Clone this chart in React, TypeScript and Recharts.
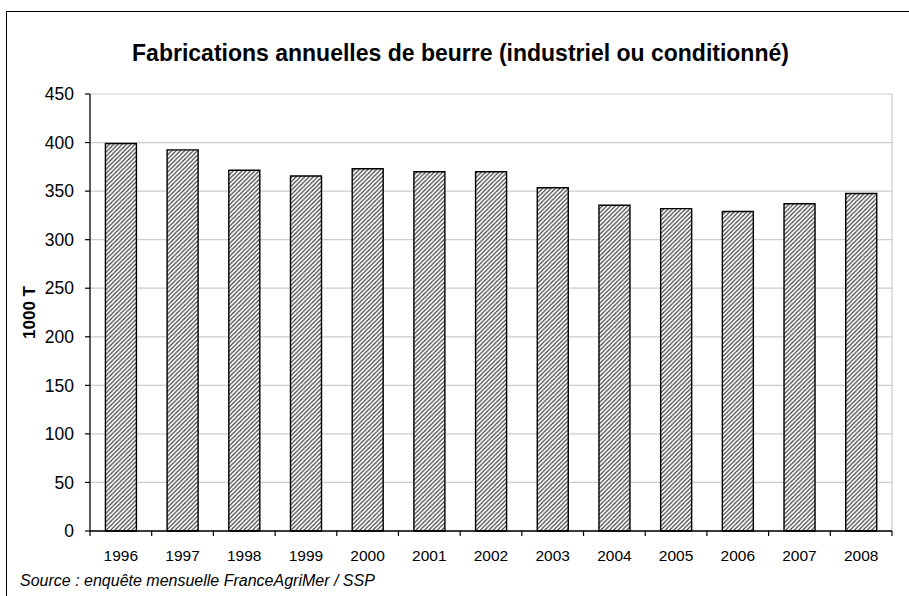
import React from 'react';
import { BarChart, Bar, XAxis, YAxis, CartesianGrid, Label } from 'recharts';

const years = ['1996', '1997', '1998', '1999', '2000', '2001', '2002', '2003', '2004', '2005', '2006', '2007', '2008'];
const production = [399, 392.5, 371.5, 365.5, 373, 370, 370, 353.5, 335.5, 332, 329, 337, 347.5];
const yTicks = [0, 50, 100, 150, 200, 250, 300, 350, 400, 450];

const title = 'Fabrications annuelles de beurre (industriel ou conditionné)';
const yLabel = '1000 T';
const source = 'Source : enquête mensuelle FranceAgriMer / SSP';

const data = years.map((y, i) => ({ year: y, value: production[i] }));

const FONT = 'Arial, "Liberation Sans", sans-serif';

const XTick = (props: any) => {
  const { x, y, payload, index } = props;
  const half = payload && payload.offset != null ? payload.offset : 30.85;
  const isLast = index === years.length - 1;
  return (
    <g>
      <line x1={x - half} y1={y} x2={x - half} y2={y + 5} stroke="#000" strokeWidth={1.2} />
      {isLast && <line x1={x + half} y1={y} x2={x + half} y2={y + 5} stroke="#000" strokeWidth={1.2} />}
      <text x={x} y={y + 29.5} textAnchor="middle" fontSize={15.5} fontFamily={FONT} fill="#000">
        {payload.value}
      </text>
    </g>
  );
};

const YLabelContent = (props: any) => {
  const vb = props.viewBox || { x: 0, y: 94, width: 90, height: 437 };
  const cx = 29;
  const cy = vb.y + vb.height / 2;
  return (
    <text
      x={cx}
      y={cy}
      transform={`rotate(-90, ${cx}, ${cy})`}
      textAnchor="middle"
      dominantBaseline="central"
      fontSize={17}
      fontWeight="bold"
      fontFamily={FONT}
      fill="#000"
    >
      {yLabel}
    </text>
  );
};

export default function App() {
  return (
    <div style={{ position: 'absolute', left: 0, top: 0, width: 909, height: 596, background: '#fff', overflow: 'hidden' }}>
      <div
        style={{
          position: 'absolute',
          left: 6,
          top: 11,
          width: 920,
          height: 600,
          borderTop: '1.5px solid #000',
          borderLeft: '1.5px solid #000',
          boxSizing: 'border-box',
        }}
      />
      <div style={{ position: 'absolute', left: 0, top: 0 }}>
        <BarChart
          width={909}
          height={596}
          data={data}
          margin={{ top: 94, right: 17, bottom: 0, left: 0 }}
          barCategoryGap="25%"
        >
          <defs>
            <pattern id="hatch" patternUnits="userSpaceOnUse" width="4.3" height="4.3">
              <rect width="4.3" height="4.3" fill="#fff" />
              <path d="M-1,1 L1,-1 M0,4.3 L4.3,0 M3.3,5.3 L5.3,3.3" stroke="#3a3a3a" strokeWidth={1.15} />
            </pattern>
          </defs>
          <CartesianGrid
            stroke="#cccccc"
            strokeWidth={1.2}
            vertical={true}
            verticalCoordinatesGenerator={({ offset }: any) => [offset.left + offset.width]}
          />
          <XAxis
            dataKey="year"
            height={65}
            interval={0}
            tickSize={0}
            tickMargin={0}
            tickLine={false}
            axisLine={{ stroke: '#000', strokeWidth: 1.3 }}
            tick={<XTick />}
          />
          <YAxis
            width={90}
            domain={[0, 450]}
            ticks={yTicks}
            interval={0}
            tickSize={5}
            tickMargin={11}
            axisLine={{ stroke: '#000', strokeWidth: 1.3 }}
            tickLine={{ stroke: '#000', strokeWidth: 1.2 }}
            tick={{ fill: '#000', fontSize: 17.5, fontFamily: FONT }}
          >
            <Label content={<YLabelContent />} />
          </YAxis>
          <Bar dataKey="value" fill="url(#hatch)" stroke="#000" strokeWidth={1.4} isAnimationActive={false} />
        </BarChart>
      </div>
      <svg width={909} height={596} style={{ position: 'absolute', left: 0, top: 0, pointerEvents: 'none' }}>
        <text x={460.5} y={61} textAnchor="middle" fontSize={23} fontWeight="bold" fontFamily={FONT} fill="#000">
          {title}
        </text>
        <text x={20} y={586} fontSize={16} fontStyle="italic" fontFamily={FONT} fill="#000">
          {source}
        </text>
      </svg>
    </div>
  );
}
